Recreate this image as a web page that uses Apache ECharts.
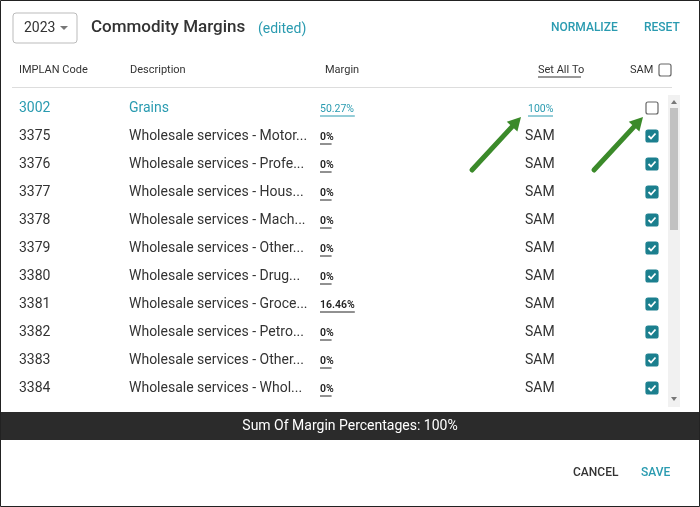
<!DOCTYPE html>
<html>
<head>
  <meta charset="utf-8">
</head>
<body style="height: 100%; margin: 0">
  <div id="container" style="width: 700px; height: 507px"></div>
  <script src="https://cdn.jsdelivr.net/npm/echarts@6/dist/echarts.min.js"></script>
  <script>
let codes = ['3002', '3375', '3376', '3377', '3378', '3379', '3380', '3381', '3382', '3383', '3384'];
let descriptions = ['Grains', 'Wholesale services - Motor...', 'Wholesale services - Profe...', 'Wholesale services - Hous...',
  'Wholesale services - Mach...', 'Wholesale services - Other...', 'Wholesale services - Drug...', 'Wholesale services - Groce...',
  'Wholesale services - Petro...', 'Wholesale services - Other...', 'Wholesale services - Whol...'];
let margins = ['50.27%', '0%', '0%', '0%', '0%', '0%', '0%', '16.46%', '0%', '0%', '0%'];
let setTo = ['100%', 'SAM', 'SAM', 'SAM', 'SAM', 'SAM', 'SAM', 'SAM', 'SAM', 'SAM', 'SAM'];
let samChecked = [false, true, true, true, true, true, true, true, true, true, true];
let sumLabel = 'Sum Of Margin Percentages: 100%';

var teal = '#2a9bb0';
var dark = '#333';
var font = 'Roboto, "Noto Sans", sans-serif';

function txt(x, y, s, size, color, opt) {
  opt = opt || {};
  return { type: 'text', x: x, y: y, z: 10, style: {
    text: s, fill: color, font: (opt.weight || 'normal') + ' ' + size + 'px ' + font,
    textAlign: opt.align || 'left', textVerticalAlign: 'middle' } };
}
function underline(x, y, w, color) {
  return { type: 'line', z: 10, shape: { x1: x, y1: y, x2: x + w, y2: y }, style: { stroke: color, lineWidth: 1 } };
}
function checkbox(x, y, checked) {
  var g = [{ type: 'rect', z: 10, shape: { x: x, y: y, width: 12, height: 12, r: 2 },
    style: { fill: checked ? '#1b7f8e' : '#fff', stroke: checked ? '#1b7f8e' : '#666', lineWidth: 1.2 } }];
  if (checked) g.push({ type: 'polyline', z: 11, shape: { points: [[x + 2.5, y + 6], [x + 5, y + 8.5], [x + 9.5, y + 3.5]] },
    style: { stroke: '#fff', lineWidth: 1.8, fill: null } });
  return g;
}
function arrow(x1, y1, x2, y2) {
  var a = Math.atan2(y2 - y1, x2 - x1), L = 15, w = 0.5;
  return [
    { type: 'line', z: 20, shape: { x1: x1, y1: y1, x2: x2 - Math.cos(a) * 10, y2: y2 - Math.sin(a) * 10 },
      style: { stroke: '#3b8a2a', lineWidth: 5, lineCap: 'round' } },
    { type: 'polygon', z: 20, shape: { points: [[x2, y2],
      [x2 - L * Math.cos(a - w), y2 - L * Math.sin(a - w)], [x2 - L * Math.cos(a + w), y2 - L * Math.sin(a + w)]] },
      style: { fill: '#3b8a2a' } }
  ];
}

var els = [];
els.push({ type: 'rect', shape: { x: 0.5, y: 0.5, width: 699, height: 506 }, style: { fill: '#fff', stroke: '#222', lineWidth: 1 } });
els.push({ type: 'rect', shape: { x: 13, y: 13, width: 64, height: 30, r: 3 }, style: { fill: '#fff', stroke: '#bbb' } });
els.push(txt(24, 28, '2023', 14, dark));
els.push({ type: 'polygon', shape: { points: [[60, 26], [68, 26], [64, 30]] }, style: { fill: '#777' } });
els.push(txt(91, 28, 'Commodity Margins', 17, dark, { weight: 500 }));
els.push(txt(258, 29, '(edited)', 14, teal));
els.push(txt(551, 28, 'NORMALIZE', 12, teal, { weight: 500 }));
els.push(txt(644, 28, 'RESET', 12, teal, { weight: 500 }));

els.push(txt(19, 70, 'IMPLAN Code', 11, dark));
els.push(txt(130, 70, 'Description', 11, dark));
els.push(txt(325, 70, 'Margin', 11, dark));
els.push(txt(538, 70, 'Set All To', 11, dark));
els.push(underline(538, 77, 43, dark));
els.push(txt(630, 70, 'SAM', 11, dark));
els = els.concat(checkbox(659, 64, false));
els.push({ type: 'line', shape: { x1: 12, y1: 87.5, x2: 672, y2: 87.5 }, style: { stroke: '#ddd' } });

codes.forEach(function (c, i) {
  var y = 108 + i * 28;
  var first = i === 0;
  var col = first ? teal : dark;
  els.push(txt(19, y, c, 14, col));
  els.push(txt(129, y, descriptions[i], 14, col));
  var mw = margins[i].length * 5.8;
  els.push(txt(320, y + 1, margins[i], 10.5, first ? teal : '#222', { weight: first ? 'normal' : 600 }));
  els.push(underline(320, y + 8, mw, first ? teal : '#222'));
  if (first) {
    els.push(txt(528, y + 1, setTo[i], 10.5, teal));
    els.push(underline(528, y + 8, 25, teal));
  } else {
    els.push(txt(525, y, setTo[i], 14, dark));
  }
  els = els.concat(checkbox(646, y - 6, samChecked[i]));
});

// scrollbar
els.push({ type: 'rect', z: 12, shape: { x: 668, y: 95, width: 12, height: 312 }, style: { fill: '#f1f1f1' } });
els.push({ type: 'rect', z: 13, shape: { x: 670, y: 108, width: 8, height: 122 }, style: { fill: '#c1c1c1' } });
els.push({ type: 'polygon', z: 13, shape: { points: [[671, 104], [677, 104], [674, 100]] }, style: { fill: '#777' } });
els.push({ type: 'polygon', z: 13, shape: { points: [[671, 397], [677, 397], [674, 401]] }, style: { fill: '#777' } });
// cover overflow below list
els.push({ type: 'rect', z: 14, shape: { x: 1, y: 407, width: 698, height: 5 }, style: { fill: '#fff' } });

els.push({ type: 'rect', z: 15, shape: { x: 1, y: 412, width: 698, height: 28 }, style: { fill: '#2b2b2b' } });
els.push(Object.assign(txt(350, 426, sumLabel, 14, '#fff', { align: 'center' }), { z: 16 }));

els.push(txt(573, 473, 'CANCEL', 12, dark, { weight: 500 }));
els.push(txt(641, 473, 'SAVE', 12, teal, { weight: 500 }));

els = els.concat(arrow(472, 170, 521, 117), arrow(594, 170, 643, 117));

var chart = echarts.init(document.getElementById('container'), null, { renderer: 'canvas' });
chart.setOption({ animation: false, graphic: { elements: els } });
  </script>
</body>
</html>
